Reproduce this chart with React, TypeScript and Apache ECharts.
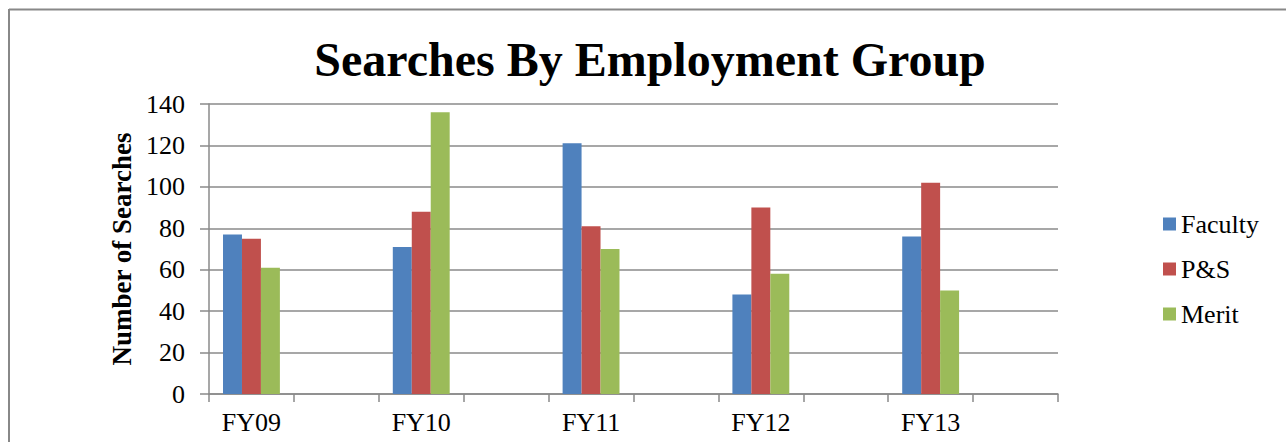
import React, { useEffect, useRef } from "react";
import * as echarts from "echarts";

const categories = ["FY09", "FY10", "FY11", "FY12", "FY13"];
const seriesNames = ["Faculty", "P&S", "Merit"];
const faculty = [77, 71, 121, 48, 76];
const ps = [75, 88, 81, 90, 102];
const merit = [61, 136, 70, 58, 50];
const colors = ["#4F81BD", "#C0504D", "#9BBB59"];
const yTicks = { min: 0, max: 140, interval: 20 };

// Excel layout: each year followed by an empty category slot
const padCats = (c: string[]) => c.flatMap((x) => [x, ""]);
const padVals = (v: number[]) => v.flatMap((x) => [x, null]);

const FONT = "Liberation Serif";
const GRID = "#8a8a8a";

export default function App() {
  const ref = useRef<HTMLDivElement>(null);
  useEffect(() => {
    if (!ref.current) return;
    const chart = echarts.init(ref.current, null, { renderer: "svg" });
    const data = [faculty, ps, merit];
    chart.setOption({
      animation: false,
      backgroundColor: "#ffffff",
      textStyle: { fontFamily: FONT },
      title: {
        text: "Searches By Employment Group",
        left: 645,
        textAlign: "center",
        top: 30,
        textStyle: { fontFamily: FONT, fontWeight: "bold", fontSize: 48, color: "#000" },
      },
      legend: {
        orient: "vertical",
        left: 1158,
        top: 206,
        itemWidth: 13,
        itemHeight: 13,
        itemGap: 19,
        icon: "rect",
        textStyle: { fontFamily: FONT, fontSize: 26, color: "#000" },
        data: seriesNames,
      },
      grid: { left: 209, right: 228, top: 104, bottom: 48, containLabel: false },
      xAxis: {
        type: "category",
        data: padCats(categories),
        axisLine: { lineStyle: { color: GRID, width: 1.5 } },
        axisTick: { show: true, length: 8, lineStyle: { color: GRID, width: 1.5 } },
        axisLabel: { interval: 0, fontFamily: FONT, fontSize: 26, color: "#000", margin: 15 },
      },
      yAxis: {
        type: "value",
        min: yTicks.min,
        max: yTicks.max,
        interval: yTicks.interval,
        name: "Number of Searches",
        nameLocation: "middle",
        nameGap: 67,
        nameRotate: 90,
        nameTextStyle: { fontFamily: FONT, fontWeight: "bold", fontSize: 27, color: "#000" },
        axisLine: { show: true, lineStyle: { color: GRID, width: 1.5 } },
        axisTick: { show: true, length: 9, lineStyle: { color: GRID, width: 1.5 } },
        axisLabel: { fontFamily: FONT, fontSize: 26, color: "#000", margin: 24 },
        splitLine: { lineStyle: { color: GRID, width: 1.5 } },
      },
      series: seriesNames.map((n, i) => ({
        name: n,
        type: "bar",
        data: padVals(data[i]),
        barGap: "0%",
        barCategoryGap: "33%",
        itemStyle: { color: colors[i] },
      })),
      graphic: [
        { type: "line", shape: { x1: 9, y1: 9.5, x2: 1290, y2: 9.5 }, style: { stroke: "#888", lineWidth: 2 } },
        { type: "line", shape: { x1: 9, y1: 9, x2: 9, y2: 450 }, style: { stroke: "#888", lineWidth: 2 } },
      ],
    });
    return () => chart.dispose();
  }, []);
  return (
    <div
      ref={ref}
      style={{ position: "absolute", left: 0, top: 0, width: 1286, height: 442 }}
    />
  );
}
